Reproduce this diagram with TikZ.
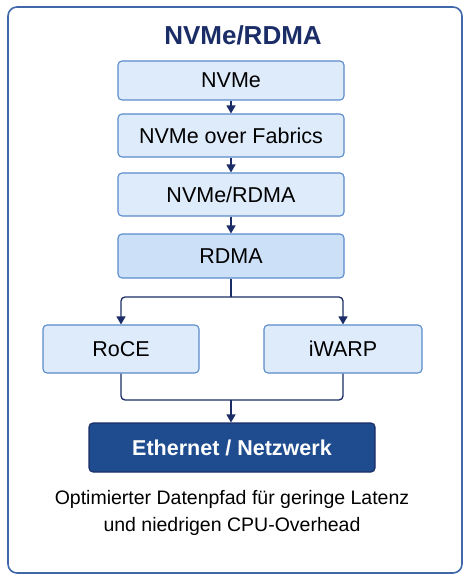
\documentclass[tikz,border=0pt]{standalone}
\usepackage{fontspec}
\setmainfont{Liberation Sans}
\usetikzlibrary{arrows.meta}

\definecolor{navy}{HTML}{1B2D66}
\definecolor{frameblue}{HTML}{3E68AA}
\definecolor{boxline}{HTML}{5A8BCB}
\definecolor{boxfill}{HTML}{DDEBFA}
\definecolor{rdmafill}{HTML}{CCE1F7}
\definecolor{ethfill}{HTML}{1F4C8F}

\begin{document}
\begin{tikzpicture}[x=1pt,y=-1pt,
  layer/.style={draw=boxline,line width=1.1pt,fill=boxfill,rounded corners=4pt,
    minimum width=226pt,minimum height=42pt,inner sep=0pt,
    font=\fontsize{21.5}{24}\selectfont},
  side/.style={layer,minimum width=156pt,minimum height=48pt},
  arr/.style={draw=navy,line width=1.3pt,-{Triangle[length=8pt,width=9pt]},rounded corners=4pt},
  link/.style={draw=navy,line width=1.3pt,rounded corners=4pt}]
\useasboundingbox (0,0) rectangle (470,580);
\draw[frameblue,line width=1.6pt,rounded corners=9pt] (8,7) rectangle (462,573);

\node (title) at (243,35) {\fontsize{26}{30}\selectfont\bfseries\color{navy}NVMe/RDMA};

\node[layer,minimum height=39pt] (nvme) at (231,80.5) {NVMe};
\node[layer,minimum height=43pt] (nvmeof) at (231,135.5) {NVMe over Fabrics};
\node[layer,minimum height=43pt] (nvmerdma) at (231,194.5) {NVMe/RDMA};
\node[layer,fill=rdmafill,minimum height=44pt] (rdma) at (231,256) {RDMA};

\node[side] (roce) at (121,349) {RoCE};
\node[side,minimum width=158pt] (iwarp) at (343,349) {iWARP};

\node[draw=navy,fill=ethfill,line width=1.1pt,rounded corners=4pt,
  minimum width=286pt,minimum height=49pt,inner sep=0pt,text=white,
  font=\fontsize{21.5}{24}\selectfont\bfseries] (eth) at (232,447.5) {Ethernet / Netzwerk};

\node[align=center,font=\fontsize{19.5}{27}\selectfont] (note) at (232,513)
  {Optimierter Datenpfad für geringe Latenz\\und niedrigen CPU-Overhead};

\draw[arr] (nvme) -- (nvmeof);
\draw[arr] (nvmeof) -- (nvmerdma);
\draw[arr] (nvmerdma) -- (rdma);
\coordinate (split) at (231,297);
\draw[link] (rdma.south) -- (split);
\draw[arr] (split) -| (roce.north);
\draw[arr] (split) -| (iwarp.north);
\coordinate (join) at (231,400);
\draw[link] (roce.south) |- (join) -| (iwarp.south);
\draw[arr] (join) -- (join |- eth.north);
\end{tikzpicture}
\end{document}
